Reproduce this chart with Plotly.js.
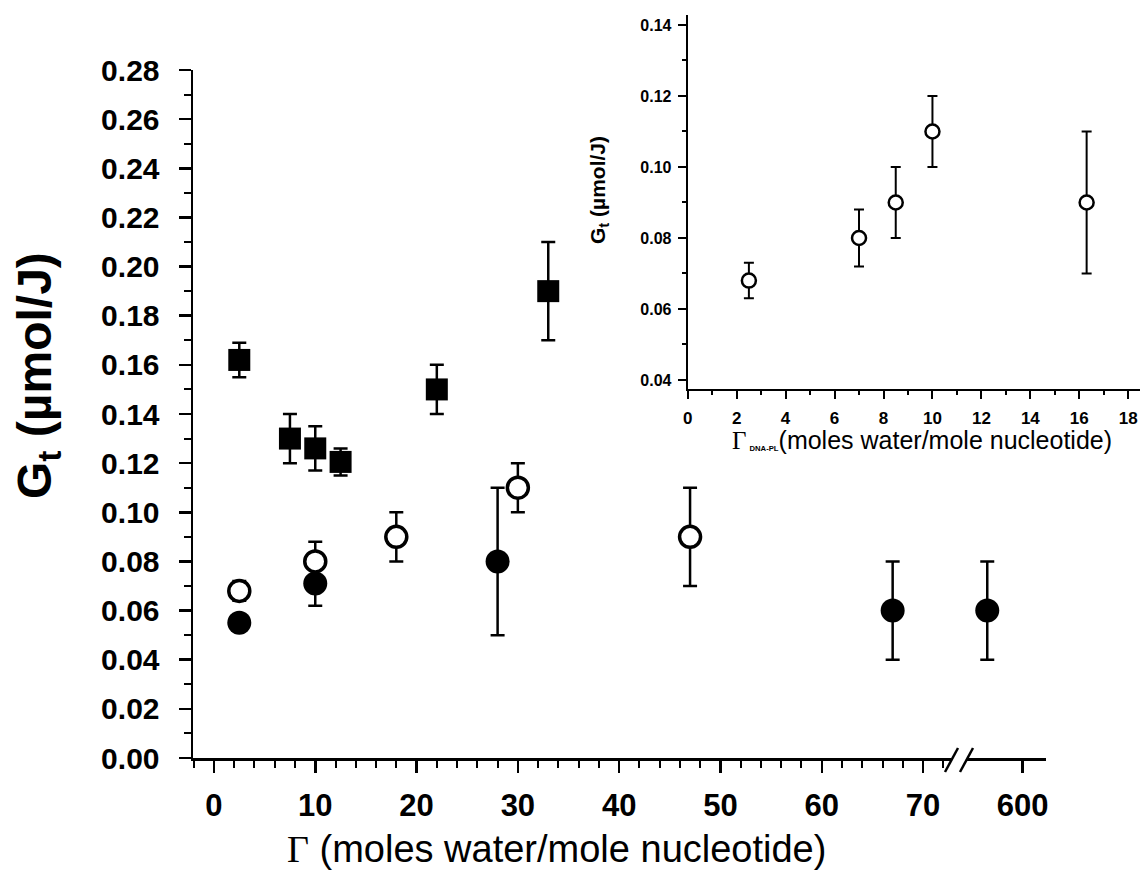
<!DOCTYPE html>
<html>
<head>
<meta charset="utf-8">
<script src="https://cdn.plot.ly/plotly-3.0.1.min.js"></script>
<style>html,body{margin:0;padding:0;background:#fff;}#chart{width:1144px;height:874px;}</style>
</head>
<body>
<div id="chart"></div>
<script>
// ---- Data ----
// Filled squares
const sqX = [2.5, 7.5, 10, 12.5, 22, 33];
const sqY = [0.162, 0.130, 0.126, 0.1205, 0.150, 0.190];
const sqErr = [0.007, 0.010, 0.009, 0.0055, 0.010, 0.020];
// Open circles
const openX = [2.5, 10, 18, 30, 47];
const openY = [0.068, 0.080, 0.090, 0.110, 0.090];
const openErr = [0.004, 0.008, 0.010, 0.010, 0.020];
// Filled circles (left segment)
const filledX = [2.5, 10, 28, 67];
const filledY = [0.055, 0.071, 0.080, 0.060];
const filledErr = [0.003, 0.009, 0.030, 0.020];
// Filled circle beyond the axis break
const breakX = [596.5];
const breakY = [0.060];
const breakErr = [0.020];
// Inset (open circles)
const insetX = [2.5, 7, 8.5, 10, 16.3];
const insetY = [0.068, 0.080, 0.090, 0.110, 0.090];
const insetErr = [0.005, 0.008, 0.010, 0.010, 0.020];

// Tick labels
const mainXTicks = [0, 10, 20, 30, 40, 50, 60, 70];
const breakXTicks = [600];

// ---- Layout constants ----
const W = 1144, H = 874;
const M = {l: 193, r: 3, t: 12, b: 116};
const PW = W - M.l - M.r, PH = H - M.t - M.b;
const px = v => (v - M.l) / PW;           // pixel x -> paper x
const py = v => (H - M.b - v) / PH;       // pixel y -> paper y

const FONT = 'Arial, "Liberation Sans", sans-serif';
const black = '#000';

const errStyle = (arr, w, t) => ({type: 'data', array: arr, visible: true, color: black, thickness: t, width: w});

const traces = [
  {x: filledX, y: filledY, xaxis: 'x', yaxis: 'y', type: 'scatter', mode: 'markers',
   marker: {symbol: 'circle', size: 24, color: black, line: {width: 0}},
   error_y: errStyle(filledErr, 7, 2.5), cliponaxis: false},
  {x: breakX, y: breakY, xaxis: 'x3', yaxis: 'y', type: 'scatter', mode: 'markers',
   marker: {symbol: 'circle', size: 24, color: black, line: {width: 0}},
   error_y: errStyle(breakErr, 7, 2.5), cliponaxis: false},
  {x: sqX, y: sqY, xaxis: 'x', yaxis: 'y', type: 'scatter', mode: 'markers',
   marker: {symbol: 'square', size: 22, color: black, line: {width: 0}},
   error_y: errStyle(sqErr, 7, 2.5), cliponaxis: false},
  {x: openX, y: openY, xaxis: 'x', yaxis: 'y', type: 'scatter', mode: 'markers',
   marker: {symbol: 'circle', size: 21, color: '#fff', line: {width: 3.5, color: black}},
   error_y: errStyle(openErr, 7, 2.5), cliponaxis: false},
  {x: insetX, y: insetY, xaxis: 'x2', yaxis: 'y2', type: 'scatter', mode: 'markers',
   marker: {symbol: 'circle', size: 14, color: '#fff', line: {width: 2.5, color: black}},
   error_y: errStyle(insetErr, 5, 2), cliponaxis: false}
];

const axBase = {
  showgrid: false, zeroline: false, showline: true, linecolor: black,
  ticks: 'outside', tickcolor: black, mirror: false, fixedrange: true
};

const layout = {
  width: W, height: H,
  margin: M,
  paper_bgcolor: '#fff', plot_bgcolor: 'rgba(0,0,0,0)',
  showlegend: false,
  font: {family: FONT, color: black},
  xaxis: Object.assign({}, axBase, {
    domain: [0, px(951)], range: [-2.07, 72.76], anchor: 'y',
    tickmode: 'array', tickvals: mainXTicks, ticktext: mainXTicks.map(String),
    linewidth: 2.5, tickwidth: 2.5, ticklen: 12,
    minor: {dtick: 2, tick0: 0, ticks: 'outside', ticklen: 7, tickwidth: 2, tickcolor: black, showgrid: false},
    tickfont: {family: FONT, size: 31, weight: 'bold', color: black},
    ticklabelstandoff: 6
  }),
  xaxis3: Object.assign({}, axBase, {
    domain: [px(967), px(1046)], range: [594.5, 602.3], anchor: 'y',
    tickmode: 'array', tickvals: breakXTicks, ticktext: breakXTicks.map(String),
    linewidth: 2.5, tickwidth: 2.5, ticklen: 12,
    tickfont: {family: FONT, size: 31, weight: 'bold', color: black},
    ticklabelstandoff: 6
  }),
  yaxis: Object.assign({}, axBase, {
    domain: [0, py(70)], range: [0, 0.28], anchor: 'x',
    dtick: 0.02, tick0: 0, tickformat: '.2f',
    linewidth: 2.5, tickwidth: 2.5, ticklen: 12,
    minor: {dtick: 0.01, tick0: 0, ticks: 'outside', ticklen: 7, tickwidth: 2, tickcolor: black, showgrid: false},
    tickfont: {family: FONT, size: 30, weight: 'bold', color: black},
    ticklabelstandoff: 13
  }),
  xaxis2: Object.assign({}, axBase, {
    domain: [px(687.7), px(1140)], range: [0, 18.48], anchor: 'y2',
    dtick: 2, tick0: 0,
    linewidth: 2, tickwidth: 2, ticklen: 8,
    minor: {dtick: 1, tick0: 0, ticks: 'outside', ticklen: 4, tickwidth: 2, tickcolor: black, showgrid: false},
    tickfont: {family: FONT, size: 17, weight: 'bold', color: black},
    ticklabelstandoff: 4
  }),
  yaxis2: Object.assign({}, axBase, {
    domain: [py(389.3), py(15)], range: [0.03738, 0.1428], anchor: 'x2',
    dtick: 0.02, tick0: 0, tickformat: '.2f',
    linewidth: 2, tickwidth: 2, ticklen: 8,
    minor: {dtick: 0.01, tick0: 0, ticks: 'outside', ticklen: 4, tickwidth: 2, tickcolor: black, showgrid: false},
    tickfont: {family: FONT, size: 16, weight: 'bold', color: black},
    ticklabelstandoff: 3
  }),
  annotations: [
    {text: 'G<sub>t</sub> (µmol/J)', xref: 'paper', yref: 'paper', x: px(38), y: py(376),
     xanchor: 'center', yanchor: 'middle', textangle: -90, showarrow: false,
     font: {family: FONT, size: 48, weight: 'bold', color: black}},
    {text: '<span style="font-family:\'Liberation Serif\',serif">Γ</span> (moles water/mole nucleotide)',
     xref: 'paper', yref: 'paper', x: px(556), y: py(849),
     xanchor: 'center', yanchor: 'middle', showarrow: false,
     font: {family: FONT, size: 38, color: black}},
    {text: 'G<sub>t</sub> (µmol/J)', xref: 'paper', yref: 'paper', x: px(599), y: py(190),
     xanchor: 'center', yanchor: 'middle', textangle: -90, showarrow: false,
     font: {family: FONT, size: 21, weight: 'bold', color: black}},
    {text: '<span style="font-family:\'Liberation Serif\',serif">Γ</span><span style="font-size:11px;font-weight:bold"> <sub>DNA-PL</sub></span>(moles water/mole nucleotide)',
     xref: 'paper', yref: 'paper', x: px(922), y: py(440),
     xanchor: 'center', yanchor: 'middle', showarrow: false,
     font: {family: FONT, size: 25, color: black}}
  ],
  shapes: [
    {type: 'line', xref: 'paper', yref: 'paper', x0: px(945), y0: py(772), x1: px(958), y1: py(748), line: {color: black, width: 2.5}},
    {type: 'line', xref: 'paper', yref: 'paper', x0: px(960), y0: py(772), x1: px(973), y1: py(748), line: {color: black, width: 2.5}}
  ]
};

Plotly.newPlot('chart', traces, layout, {displayModeBar: false, staticPlot: true});
</script>
</body>
</html>
